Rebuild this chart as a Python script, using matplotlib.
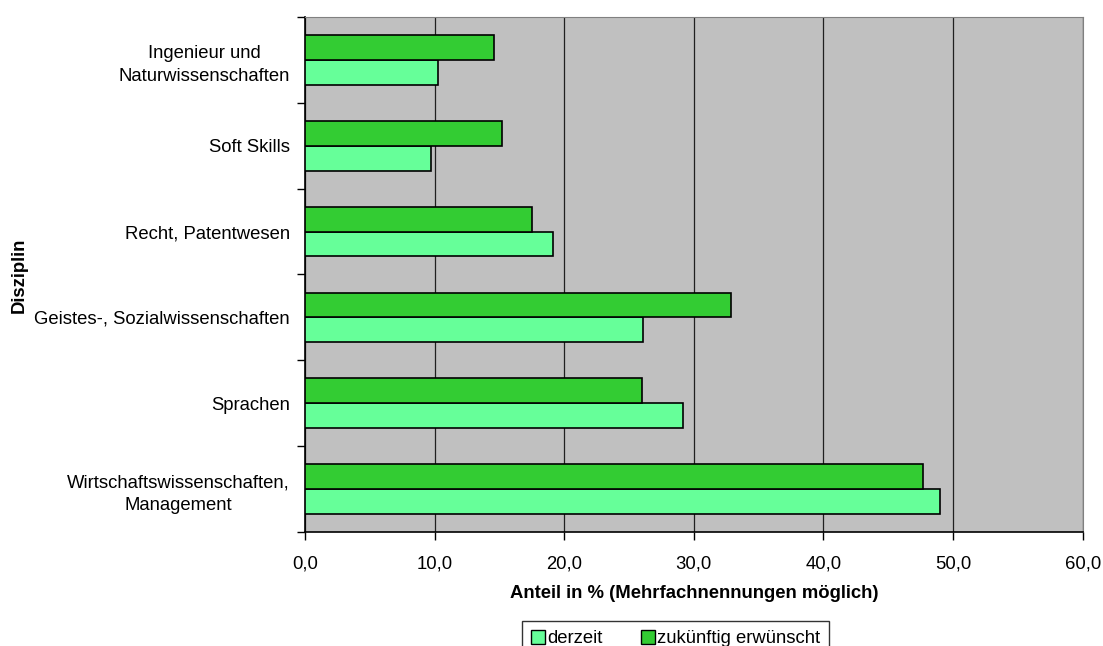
import matplotlib.pyplot as plt
import numpy as np
from matplotlib.patches import Patch

plt.rcParams['font.family'] = ['Liberation Sans', 'DejaVu Sans']

# Kategorien von unten nach oben
disziplinen = ["Wirtschaftswissenschaften,\nManagement", "Sprachen",
               "Geistes-, Sozialwissenschaften", "Recht, Patentwesen",
               "Soft Skills", "Ingenieur und\nNaturwissenschaften"]
derzeit = [49.0, 29.2, 26.1, 19.1, 9.7, 10.25]
zukuenftig = [47.7, 26.0, 32.9, 17.5, 15.2, 14.6]
x_ticks = [0, 10, 20, 30, 40, 50, 60]
x_ticklabels = ["0,0", "10,0", "20,0", "30,0", "40,0", "50,0", "60,0"]

col_derzeit = "#66ff99"
col_zukunft = "#33cc33"
fs = 13.3

fig = plt.figure(figsize=(11.03, 6.46), dpi=100)
ax = fig.add_axes([0.2765, 0.1765, 0.7051, 0.7972])
ax.set_facecolor("#c0c0c0")

y = np.arange(len(disziplinen))
h = 0.29
ax.barh(y - h / 2, derzeit, height=h, color=col_derzeit, edgecolor="black", linewidth=1.2, zorder=3)
ax.barh(y + h / 2, zukuenftig, height=h, color=col_zukunft, edgecolor="black", linewidth=1.2, zorder=3)

ax.set_xlim(0, 60)
ax.set_ylim(-0.5, len(disziplinen) - 0.5)
ax.set_xticks(x_ticks)
ax.set_xticklabels(x_ticklabels, fontsize=fs)
ax.tick_params(axis="x", direction="out", length=6, width=1, pad=11)
ax.xaxis.grid(True, color="#202020", linewidth=0.9, zorder=1)

# Striche zwischen den Kategorien, Beschriftung mittig
ax.set_yticks(np.arange(len(disziplinen) + 1) - 0.5)
ax.set_yticklabels([])
ax.tick_params(axis="y", which="major", direction="out", length=6, width=1)
ax.set_yticks(y, minor=True)
ax.set_yticklabels(disziplinen, minor=True, fontsize=fs, ha="right", multialignment="center",
                   linespacing=1.45)
ax.tick_params(axis="y", which="minor", length=0, pad=11)

for s in ["top", "right"]:
    ax.spines[s].set_color("#808080")
for s in ["left", "bottom"]:
    ax.spines[s].set_linewidth(1.2)

ax.set_xlabel("Anteil in % (Mehrfachnennungen möglich)", fontsize=fs, fontweight="bold", labelpad=9)
fig.text(0.017, 0.574, "Disziplin", rotation=90, fontsize=fs, fontweight="bold", va="center", ha="center")

handles = [Patch(facecolor=col_derzeit, edgecolor="black", label="derzeit"),
           Patch(facecolor=col_zukunft, edgecolor="black", label="zukünftig erwünscht")]
fig.legend(handles=handles, loc="upper center", bbox_to_anchor=(0.6124, 0.0387), ncol=2,
           fontsize=fs, frameon=True, fancybox=False, edgecolor="black",
           handlelength=0.75, handleheight=0.75, handletextpad=0.1, columnspacing=2.1,
           borderpad=0.5, borderaxespad=0)

fig.savefig("out.png", dpi=100)
